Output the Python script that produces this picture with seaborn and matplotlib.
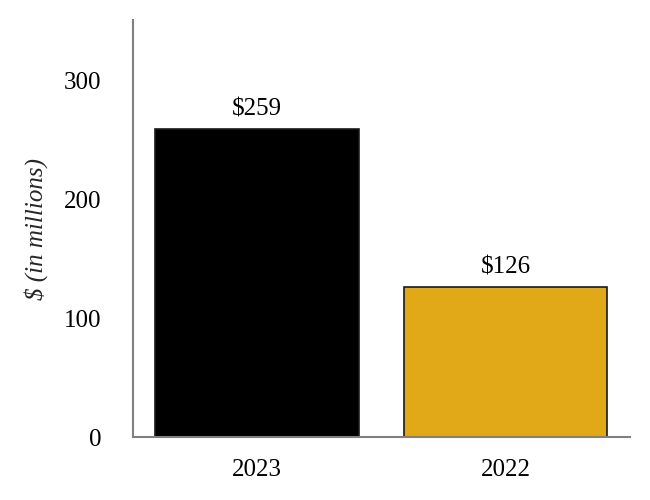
import matplotlib
matplotlib.use("Agg")
import matplotlib.pyplot as plt
import seaborn as sns
import pandas as pd

years = ["2023", "2022"]
values = [259, 126]
colors = ["#000000", "#E1A817"]
labels = ["$259", "$126"]

sns.set_style("white")
plt.rcParams["font.family"] = ["Liberation Serif", "DejaVu Serif"]

df = pd.DataFrame({"year": years, "value": values})

fig = plt.figure(figsize=(6.5, 5), dpi=100)
ax = fig.add_axes([0.2046, 0.126, 0.7644, 0.834])
sns.barplot(data=df, x="year", y="value", hue="year", palette=colors,
            order=years, hue_order=years, width=0.82, legend=False,
            edgecolor="#1a1a1a", linewidth=1.2, ax=ax, saturation=1)

for p, lab in zip(ax.patches, labels):
    ax.text(p.get_x() + p.get_width() / 2, p.get_height() + 7.5, lab,
            ha="center", va="bottom", fontsize=18, color="black")

ax.set_xlim(-0.5, 1.5)
ax.set_ylim(0, 351)
ax.set_yticks([0, 100, 200, 300])
ax.set_xlabel("")
ax.set_ylabel("\\$ (in millions)", fontsize=18, style="italic", labelpad=11)
ax.tick_params(axis="both", length=0, labelsize=18, colors="black")
ax.tick_params(axis="y", pad=23)
ax.tick_params(axis="x", pad=15.5)
for s in ["top", "right"]:
    ax.spines[s].set_visible(False)
for s in ["left", "bottom"]:
    ax.spines[s].set_color("#808080")
    ax.spines[s].set_linewidth(1.5)

fig.savefig("out.png", dpi=100)
